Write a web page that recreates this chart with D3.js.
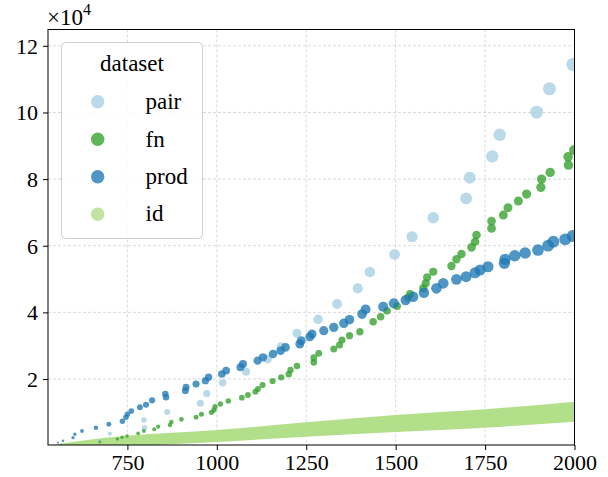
<!DOCTYPE html>
<html><head><meta charset="utf-8">
<script src="https://cdn.jsdelivr.net/npm/d3@7"></script>
<style>
html,body{margin:0;padding:0;background:#fff;}
svg{display:block;font-family:"Liberation Serif","DejaVu Serif",serif;}
</style></head>
<body><svg id="chart" width="608" height="477"></svg>
<script>
// ---------- data ----------
const categories = ["pair", "fn", "prod", "id"];
const xTicks = [750, 1000, 1250, 1500, 1750, 2000];
const yTicks = [20000, 40000, 60000, 80000, 100000, 120000];
const yTickLabels = ["2", "4", "6", "8", "10", "12"];

const pairX = [673, 701, 796, 798, 861, 954, 972, 1016, 1082, 1142, 1180, 1224, 1283, 1336, 1394, 1428, 1497, 1546, 1605, 1697, 1707, 1770, 1791, 1894, 1930, 1996];
const pairY = [1410, 3600, 7710, 5400, 10110, 12720, 15600, 18900, 22200, 25920, 29700, 33720, 37920, 42510, 47220, 52110, 57420, 62700, 68400, 74220, 80400, 86820, 93300, 100110, 107100, 114420];

const fnX = [565, 673, 722, 735, 749, 780, 796, 825, 836, 869, 873, 901, 942, 957, 985, 992, 995, 1010, 1032, 1070, 1087, 1108, 1115, 1128, 1156, 1180, 1201, 1206, 1224, 1271, 1271, 1285, 1327, 1343, 1350, 1371, 1400, 1437, 1458, 1476, 1504, 1534, 1540, 1577, 1584, 1588, 1605, 1656, 1670, 1684, 1712, 1722, 1726, 1768, 1768, 1801, 1814, 1843, 1866, 1906, 1908, 1932, 1983, 1982, 1998];
const fnY = [420, 1110, 2010, 2520, 2910, 3720, 4410, 4920, 5700, 6210, 7110, 7920, 8520, 9420, 10020, 10710, 11700, 12510, 13410, 14400, 15210, 16200, 17010, 18210, 19410, 20520, 21420, 22710, 23910, 25020, 26400, 27720, 29010, 30210, 31710, 33000, 34200, 37200, 38700, 40500, 41910, 44400, 45510, 47220, 48720, 50520, 52200, 53910, 55920, 57510, 59520, 61200, 63210, 65220, 67410, 69210, 71400, 73410, 75510, 77520, 80010, 82020, 84210, 86700, 88710];

const prodX = [556, 570, 598, 603, 623, 662, 698, 736, 746, 750, 761, 785, 802, 819, 856, 858, 912, 914, 942, 968, 977, 1014, 1026, 1066, 1073, 1114, 1129, 1157, 1178, 1192, 1232, 1236, 1260, 1266, 1299, 1327, 1355, 1371, 1406, 1416, 1465, 1495, 1528, 1549, 1579, 1614, 1633, 1670, 1697, 1722, 1736, 1758, 1804, 1806, 1833, 1862, 1898, 1926, 1941, 1974, 1995];
const prodY = [900, 1500, 2400, 3420, 4410, 5400, 6420, 7320, 8520, 9420, 10410, 11520, 12300, 13600, 15510, 14520, 16500, 17520, 18510, 19500, 20520, 21510, 22500, 23520, 24510, 25500, 26520, 27510, 28500, 29520, 30510, 31500, 32700, 33510, 34500, 35520, 36720, 37800, 39510, 40920, 41700, 42720, 43710, 44700, 45900, 47220, 48720, 49920, 50700, 51900, 52710, 53700, 54720, 55920, 57000, 57810, 58710, 60000, 61200, 61920, 62910];

// id: dense band of overlapping markers, read as its lower / upper envelope
const idX  = [535, 560, 600, 750, 1000, 1250, 1500, 1750, 2000];
const idLo = [0, 0, 0, 200, 1400, 3000, 4410, 5700, 7500];
const idHi = [0, 500, 1200, 3000, 4710, 7020, 9210, 10920, 13200];

// ---------- layout / style ----------
const M = {left: 48, top: 29.5, right: 574.5, bottom: 445};
const colors = {pair: "#a6cee3", fn: "#33a02c", prod: "#1f78b4", id: "#b2df8a"};
const alpha = 0.78;

const svg = d3.select("#chart");
const x = d3.scaleLinear().domain([528, 2000]).range([M.left, M.right]);
const y = d3.scaleLinear().domain([200, 124900]).range([M.bottom, M.top]);

// marker radius grows with size (per series)
function rScale(x0, rmax, k) {
  const s = d3.scalePow().exponent(k).domain([0, 2000 - x0]).range([0, rmax]).clamp(true);
  return v => Math.max(0.8, s(Math.max(0, v - x0)));
}
const radius = {pair: rScale(560, 6.7, 0.5), fn: rScale(555, 4.8, 0.5), prod: rScale(540, 6.0, 0.4)};

svg.append("defs").append("clipPath").attr("id", "clip")
  .append("rect").attr("x", M.left).attr("y", M.top)
  .attr("width", M.right - M.left).attr("height", M.bottom - M.top);

// grid
const grid = svg.append("g");
grid.selectAll("line.gx").data(xTicks).join("line")
  .attr("x1", d => x(d)).attr("x2", d => x(d)).attr("y1", M.top).attr("y2", M.bottom)
  .attr("stroke", "#cfcfcf").attr("stroke-width", 0.8).attr("stroke-dasharray", "3,2");
grid.selectAll("line.gy").data(yTicks).join("line")
  .attr("y1", d => y(d)).attr("y2", d => y(d)).attr("x1", M.left).attr("x2", M.right)
  .attr("stroke", "#cfcfcf").attr("stroke-width", 0.8).attr("stroke-dasharray", "3,2");

const plot = svg.append("g").attr("clip-path", "url(#clip)");

// id band
const idData = idX.map((d, i) => ({x: d, lo: idLo[i], hi: idHi[i]}));
plot.append("path").datum(idData)
  .attr("fill", colors.id)
  .attr("d", d3.area().curve(d3.curveMonotoneX).x(d => x(d.x)).y0(d => y(d.lo) + 1).y1(d => y(d.hi)));

function drawSeries(name, xs, ys) {
  plot.append("g").selectAll("circle").data(xs.map((d, i) => [d, ys[i]])).join("circle")
    .attr("cx", d => x(d[0])).attr("cy", d => y(d[1]))
    .attr("r", d => radius[name](d[0]))
    .attr("fill", colors[name]).attr("fill-opacity", alpha);
}
drawSeries("pair", pairX, pairY);
drawSeries("fn", fnX, fnY);
drawSeries("prod", prodX, prodY);

// axes
const xAxis = d3.axisBottom(x).tickValues(xTicks).tickSize(5).tickPadding(4).tickFormat(d3.format("d"));
const yAxis = d3.axisLeft(y).tickValues(yTicks).tickSize(5).tickPadding(5).tickFormat((d, i) => yTickLabels[i]);
const gx = svg.append("g").attr("transform", `translate(0,${M.bottom})`).call(xAxis);
const gy = svg.append("g").attr("transform", `translate(${M.left},0)`).call(yAxis);
[gx, gy].forEach(g => {
  g.select(".domain").remove();
  g.selectAll("text").attr("font-size", 22).attr("fill", "#000").attr("font-family", "Liberation Serif");
  g.selectAll("line").attr("stroke", "#000").attr("stroke-width", 1);
});
gy.selectAll("text").attr("dy", "0.34em");

// frame
svg.append("rect").attr("x", M.left).attr("y", M.top)
  .attr("width", M.right - M.left).attr("height", M.bottom - M.top)
  .attr("fill", "none").attr("stroke", "#000").attr("stroke-width", 1);

// offset text
const off = svg.append("text").attr("x", M.left - 1).attr("y", 25).attr("font-size", 23);
off.append("tspan").text("×10");
off.append("tspan").attr("font-size", 16).attr("dy", -10).text("4");

// legend
const lg = svg.append("g");
lg.append("rect").attr("x", 61.5).attr("y", 42.5).attr("width", 141).attr("height", 196).attr("rx", 4)
  .attr("fill", "#fff").attr("fill-opacity", 0.85).attr("stroke", "#d0d0d0").attr("stroke-width", 1);
lg.append("text").attr("x", 132).attr("y", 71).attr("text-anchor", "middle").attr("font-size", 23).text("dataset");
categories.forEach((c, i) => {
  lg.append("circle").attr("cx", 97.7).attr("cy", 101.7 + i * 37.5).attr("r", 6.7)
    .attr("fill", colors[c]).attr("fill-opacity", c === "id" ? 0.8 : alpha);
  lg.append("text").attr("x", 145.5).attr("y", 109.3 + i * 37.3).attr("font-size", 23).text(c);
});
</script></body></html>
